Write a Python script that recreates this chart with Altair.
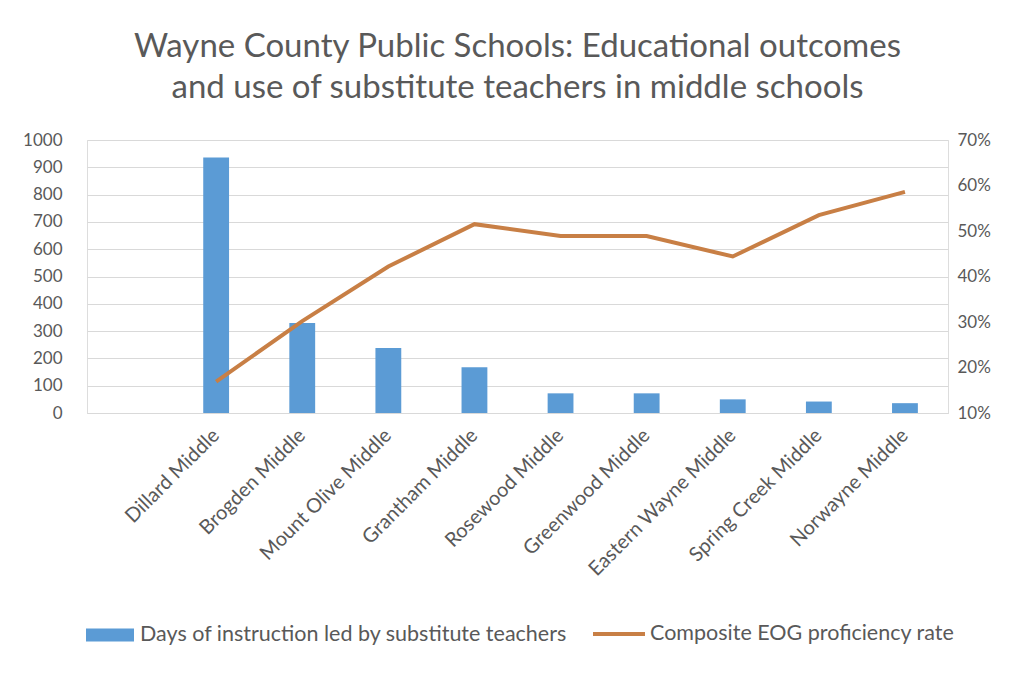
import altair as alt
import pandas as pd

schools = ["Dillard Middle", "Brogden Middle", "Mount Olive Middle", "Grantham Middle",
           "Rosewood Middle", "Greenwood Middle", "Eastern Wayne Middle",
           "Spring Creek Middle", "Norwayne Middle"]
sub_days = [936, 330, 238, 168, 72, 72, 50, 42, 36]
proficiency = [0.169, 0.302, 0.422, 0.515, 0.489, 0.489, 0.444, 0.535, 0.586]
left_ticks = [0, 100, 200, 300, 400, 500, 600, 700, 800, 900, 1000]
right_ticks = [0.1, 0.2, 0.3, 0.4, 0.5, 0.6, 0.7]

bar_name = "Days of instruction led by substitute teachers"
line_name = "Composite EOG proficiency rate"

df = pd.DataFrame({"school": schools, "days": sub_days, "rate": proficiency})

FONT = "Lato"
GRAY = "#595959"
domain = [" "] + schools

x_enc = alt.X("school:N", sort=domain,
              scale=alt.Scale(type="band", domain=domain, paddingInner=0.7, paddingOuter=0.35),
              axis=alt.Axis(title=None, labelAngle=-45, labelAlign="right", labelBaseline="middle",
                            labelFontSize=20, labelColor=GRAY, labelFont=FONT, ticks=False,
                            domain=True, domainColor="#d9d9d9", labelPadding=19, grid=False,
                            labelLimit=0))

bars = alt.Chart(df).transform_calculate(series=f"'{bar_name}'").mark_bar().encode(
    x=x_enc,
    y=alt.Y("days:Q", scale=alt.Scale(domain=[0, 1000], nice=False),
            axis=alt.Axis(title=None, values=left_ticks, format="d", ticks=False, domain=False,
                          grid=True, gridColor="#d9d9d9", labelFontSize=17, labelColor=GRAY,
                          labelFont=FONT, labelPadding=25)),
    color=alt.Color("series:N", scale=alt.Scale(range=["#5B9BD5"]),
                    legend=alt.Legend(title=None, orient="none", legendX=-1, legendY=471,
                                      symbolType="M-1,-0.27H1V0.27H-1Z", symbolSize=2304,
                                      symbolStrokeWidth=0, labelFontSize=21.5, labelFont=FONT,
                                      labelColor=GRAY, padding=0, labelOffset=6, labelLimit=0)),
)

line = alt.Chart(df).transform_calculate(series=f"'{line_name}'").mark_line(strokeWidth=4).encode(
    x=x_enc,
    y=alt.Y("rate:Q", scale=alt.Scale(domain=[0.1, 0.7], nice=False),
            axis=alt.Axis(title=None, orient="right", values=right_ticks, format=".0%",
                          ticks=False, domain=False, grid=False, labelFontSize=17,
                          labelColor=GRAY, labelFont=FONT, labelPadding=9)),
    stroke=alt.Stroke("series:N", scale=alt.Scale(range=["#C87F45"]),
                      legend=alt.Legend(title=None, orient="none", legendX=504, legendY=466,
                                        symbolType="stroke", symbolSize=2704,
                                        symbolStrokeWidth=4, labelFontSize=21.5, labelFont=FONT,
                                        labelColor=GRAY, padding=0, labelOffset=3, labelLimit=0)),
)

chart = alt.layer(bars, line).resolve_scale(y="independent", color="independent").properties(
    width=861, height=273,
    autosize=alt.AutoSizeParams(type="none"),
    padding={"left": 79, "top": 132, "right": 68, "bottom": 252},
    title=alt.Title(["Wayne County Public Schools: Educational outcomes",
                     "and use of substitute teachers in middle schools"],
                    fontSize=33, font=FONT, fontWeight="normal", color=GRAY,
                    anchor="middle", offset=26, lineHeight=41),
).configure_view(stroke=None).configure(background="white")

chart.save("out.html", embed_options={"renderer": "svg", "actions": False})
